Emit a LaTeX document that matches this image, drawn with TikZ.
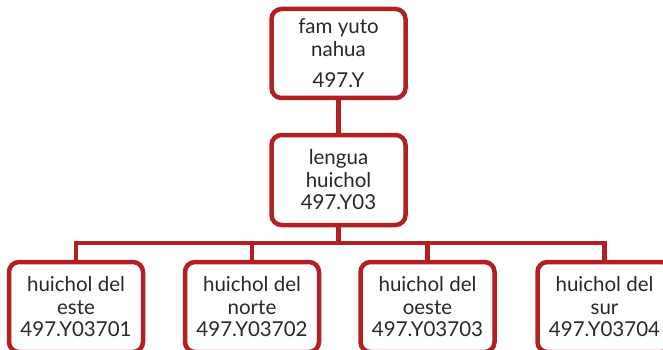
\documentclass[tikz,border=0pt]{standalone}
\usepackage{fontspec}
\setmainfont{Lato}
\definecolor{boxred}{RGB}{178,32,36}
\definecolor{txtgray}{RGB}{40,40,40}
\begin{document}
\begin{tikzpicture}[x=1pt,y=-1pt,
  box/.style={draw=boxred, line width=4.5pt, rounded corners=10pt, fill=white,
    minimum width=134pt, minimum height=90pt, inner sep=0pt, align=center,
    text=txtgray, font=\fontsize{20.5}{22.5}\selectfont},
  link/.style={draw=boxred, line width=4.5pt}]
\useasboundingbox (0,0) rectangle (663,350);
\coordinate (bus) at (0,243);
\node[box, minimum height=89pt] (top) at (338.5,53.5) {fam yuto\\nahua\\[9pt]497.Y};
\node[box] (mid) at (338.5,180) {lengua\\huichol\\497.Y03};
\node[box] (b1) at (76,307) {huichol del\\este\\497.Y03701};
\node[box] (b2) at (252,307) {huichol del\\norte\\497.Y03702};
\node[box] (b3) at (427.5,307) {huichol del\\oeste\\497.Y03703};
\node[box] (b4) at (604.5,307) {huichol del\\sur\\497.Y03704};
\draw[link] (top.south) -- (mid.north);
\draw[link] (mid.south) -- (mid.south |- bus);
\draw[link] (b1.north) |- (bus -| b4.north) -- (b4.north);
\draw[link] (b2.north) -- (b2.north |- bus);
\draw[link] (b3.north) -- (b3.north |- bus);
\end{tikzpicture}
\end{document}
